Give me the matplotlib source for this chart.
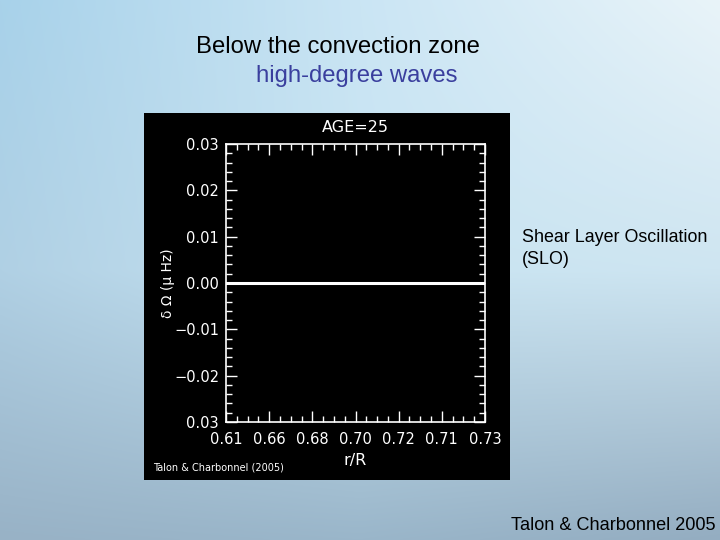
import numpy as np
import matplotlib
matplotlib.use("Agg")
import matplotlib.pyplot as plt
from matplotlib.patches import Rectangle
from matplotlib.ticker import MultipleLocator, FixedLocator

# ---- data ----
r_over_R = [0.64, 0.76]
delta_omega = [0.0, 0.0]
x_tick_values = [0.64, 0.66, 0.68, 0.70, 0.72, 0.74, 0.76]
x_tick_labels = ["0.61", "0.66", "0.68", "0.70", "0.72", "0.71", "0.73"]
y_tick_values = [-0.03, -0.02, -0.01, 0.0, 0.01, 0.02, 0.03]
y_tick_labels = ["0.03", "\u22120.02", "\u22120.01", "0.00", "0.01", "0.02", "0.03"]

fig = plt.figure(figsize=(7.2, 5.4), dpi=100)

# slide background gradient (3x3 control colours, smooth bilinear upsample)
bg = fig.add_axes([0, 0, 1, 1], zorder=-10)
bg.axis("off")
ctrl = np.array([
    [(168, 210, 234), (202, 229, 244), (233, 244, 249)],
    [(176, 208, 228), (200, 228, 242), (206, 229, 241)],
    [(152, 178, 198), (154, 182, 202), (148, 173, 193)],
], dtype=float) / 255
ny, nx = 270, 360
ys = np.linspace(0, 2, ny)
xs = np.linspace(0, 2, nx)
tmp = np.empty((3, nx, 3))
for i in range(3):
    for c in range(3):
        tmp[i, :, c] = np.interp(xs, [0, 1, 2], ctrl[i, :, c])
img = np.empty((ny, nx, 3))
for c in range(3):
    for j in range(nx):
        img[:, j, c] = np.interp(ys, [0, 1, 2], tmp[:, j, c])
bg.imshow(np.clip(img, 0, 1), extent=[0, 1, 0, 1], aspect="auto",
          interpolation="bilinear")
bg.set_xlim(0, 1)
bg.set_ylim(0, 1)

# black panel
fig.patches.append(Rectangle((144 / 720, 1 - 480 / 540), 366 / 720, 367 / 540,
                             transform=fig.transFigure, facecolor="black",
                             edgecolor="none", zorder=-5))

# slide texts
fig.text(196 / 720, 1 - 47 / 540, "Below the convection zone", fontsize=17.2,
         family="Liberation Sans", color="black", ha="left", va="center")
fig.text(256 / 720, 1 - 76 / 540, "high-degree waves", fontsize=17.2,
         family="Liberation Sans", color="#3a3f9e", ha="left", va="center")
fig.text(522 / 720, 1 - 237 / 540, "Shear Layer Oscillation", fontsize=12.9,
         family="Liberation Sans", color="black", ha="left", va="center")
fig.text(522 / 720, 1 - 259 / 540, "(SLO)", fontsize=12.9,
         family="Liberation Sans", color="black", ha="left", va="center")
fig.text(511 / 720, 1 - 525 / 540, "Talon & Charbonnel 2005", fontsize=13.1,
         family="Liberation Sans", color="black", ha="left", va="center")

# plot axes
ax = fig.add_axes([226 / 720, 1 - 422 / 540, 259 / 720, 278 / 540])
ax.set_facecolor("black")
ax.plot(r_over_R, delta_omega, color="white", lw=2.2)
ax.set_xlim(0.64, 0.76)
ax.set_ylim(-0.03, 0.03)
ax.xaxis.set_major_locator(FixedLocator(x_tick_values))
ax.set_xticklabels(x_tick_labels)
ax.yaxis.set_major_locator(FixedLocator(y_tick_values))
ax.set_yticklabels(y_tick_labels)
ax.xaxis.set_minor_locator(MultipleLocator(0.005))
ax.yaxis.set_minor_locator(MultipleLocator(0.002))
for s in ax.spines.values():
    s.set_color("white")
    s.set_linewidth(1.2)
ax.tick_params(which="both", direction="in", colors="white", top=True, right=True,
               width=1.0)
ax.tick_params(which="major", length=8)
ax.tick_params(which="minor", length=4)
ax.tick_params(axis="y", which="major", labelsize=10.5, pad=5)
ax.tick_params(axis="x", which="major", labelsize=10.5, pad=7)

fig.text(355 / 720, 1 - 127 / 540, "AGE=25", color="white", fontsize=11.5,
         ha="center", va="center")
fig.text(355 / 720, 1 - 460 / 540, "r/R", color="white", fontsize=11.5,
         ha="center", va="center")
fig.text(168 / 720, 1 - 283 / 540, "\u03b4 \u03a9 (\u03bc Hz)", color="white",
         fontsize=10, rotation=90, ha="center", va="center")
fig.text(153 / 720, 1 - 467 / 540, "Talon & Charbonnel (2005)", color="white",
         fontsize=7, ha="left", va="center")

fig.savefig("out.png", dpi=100)
